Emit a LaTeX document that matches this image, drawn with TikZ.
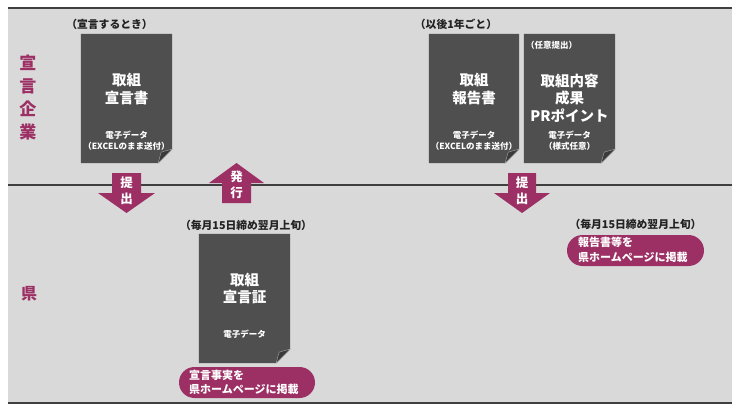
\documentclass[tikz,border=0pt]{standalone}
\usepackage{fontspec}
\setmainfont{Noto Sans CJK JP}
\definecolor{bgc}{HTML}{D9D9D9}
\definecolor{docc}{HTML}{4F4F4F}
\definecolor{foldc}{HTML}{3A3A3A}
\definecolor{pinkc}{HTML}{9C2F63}
\definecolor{linec}{HTML}{3F3F3F}
\definecolor{txtc}{HTML}{222222}
\tikzset{
  docbox/.style={inner sep=0pt, minimum width=91pt, minimum height=129pt},
  docfill/.style={fill=docc},
  foldfill/.style={fill=foldc, draw=gray!70, line width=0.4pt},
  headtxt/.style={text=white, font=\fontsize{14.5}{17.5}\selectfont\bfseries, align=center, inner sep=0pt},
  smalltxt/.style={text=white, font=\fontsize{8.5}{11}\selectfont\bfseries, align=center, inner sep=0pt},
  labeltxt/.style={text=txtc, font=\fontsize{10.8}{13}\selectfont\bfseries, inner sep=0pt},
  sidetxt/.style={text=pinkc, font=\fontsize{17}{23}\selectfont\bfseries, align=center, inner sep=0pt},
  arrowfill/.style={fill=pinkc},
  arrowtxt/.style={text=white, font=\fontsize{12.5}{16}\selectfont\bfseries, align=center, inner sep=0pt},
  pill/.style={fill=pinkc, rounded corners=15.5pt},
  pilltxt/.style={text=white, font=\fontsize{11}{14.5}\selectfont\bfseries, align=left, inner sep=0pt, anchor=west},
  sepline/.style={draw=linec, line width=1.5pt}
}
\newcommand\mydoc[1]{%
  \fill[docfill] (#1.north west) -- (#1.north east) -- ([yshift=14pt]#1.south east)
     -- ([xshift=-14pt]#1.south east) -- (#1.south west) -- cycle;
  \filldraw[foldfill] ([yshift=14pt]#1.south east) -- ([xshift=-14pt]#1.south east)
     .. controls ([xshift=-12pt,yshift=8pt]#1.south east) .. ([xshift=-11pt,yshift=11pt]#1.south east)
     .. controls ([xshift=-8pt,yshift=12pt]#1.south east) .. cycle;
}
\begin{document}
\begin{tikzpicture}[x=1pt,y=-1pt]
\useasboundingbox (0,0) rectangle (740,412);
\fill[bgc] (8,8) rectangle (732,403);
\coordinate (tl) at (8,8);   \coordinate (tr) at (732,8);
\coordinate (ml) at (8,185); \coordinate (mr) at (732,185);
\coordinate (bl) at (8,403); \coordinate (br) at (732,403);
\draw[sepline] (tl) -- (tr);
\draw[sepline] (ml) -- (mr);
\draw[sepline] (bl) -- (br);

% side labels
\node[sidetxt] (side1) at (28,97.5) {宣\\言\\企\\業};
\node[sidetxt, font=\fontsize{16}{20}\selectfont\bfseries] (side2) at (29,294) {県};

% top labels
\node[labeltxt] (lab1) at (109.5,24) {（宣言するとき）};
\node[labeltxt] (lab2) at (456,24) {（以後1年ごと）};

% documents
\node[docbox] (d1) at (126.5,98.5) {};
\node[docbox, minimum width=90pt] (d2) at (474,98.5) {};
\node[docbox] (d3) at (569.5,98.5) {};
\node[docbox] (d4) at (244.5,298.5) {};
\mydoc{d1}\mydoc{d2}\mydoc{d3}\mydoc{d4}

\node[headtxt] (d1h) at (126.5,89) {取組\\宣言書};
\node[smalltxt] (d1s) at (126.5,140.5) {電子データ\\（EXCELのまま送付）};

\node[headtxt] (d2h) at (474,89) {取組\\報告書};
\node[smalltxt] (d2s) at (474,140.5) {電子データ\\（EXCELのまま送付）};

\node[smalltxt, anchor=west] (d3t) at (526,45) {（任意提出）};
\node[headtxt] (d3h) at (569.5,98) {取組内容\\成果\\PRポイント};
\node[smalltxt] (d3s) at (569.5,140.5) {電子データ\\（様式任意）};

\node[labeltxt] (lab3) at (246,225) {（毎月15日締め翌月上旬）};
\node[headtxt] (d4h) at (244.5,288.5) {取組\\宣言証};
\node[smalltxt] (d4s) at (244.5,334) {電子データ};

% arrows
\fill[arrowfill] (112,173) -- (141,173) -- (141,193) -- (155,193) -- (126.5,213) -- (98,193) -- (112,193) -- cycle;
\node[arrowtxt] (a1) at (126.5,191) {提\\出};
\fill[arrowfill] (222,203) -- (251,203) -- (251,183) -- (264,183) -- (236.5,163) -- (209,183) -- (222,183) -- cycle;
\node[arrowtxt] (a2) at (236.5,184.5) {発\\行};
\fill[arrowfill] (508,173) -- (536,173) -- (536,193) -- (550,193) -- (522,213) -- (494,193) -- (508,193) -- cycle;
\node[arrowtxt] (a3) at (522,191) {提\\出};

\node[labeltxt] (lab4) at (635.5,224) {（毎月15日締め翌月上旬）};

% pills
\fill[pill] (179,367) rectangle (315,398);
\node[pilltxt] (p1) at (189,382.5) {宣言事実を\\県ホームページに掲載};
\fill[pill] (567,235) rectangle (704,266);
\node[pilltxt] (p2) at (578,250) {報告書等を\\県ホームページに掲載};
\end{tikzpicture}
\end{document}
